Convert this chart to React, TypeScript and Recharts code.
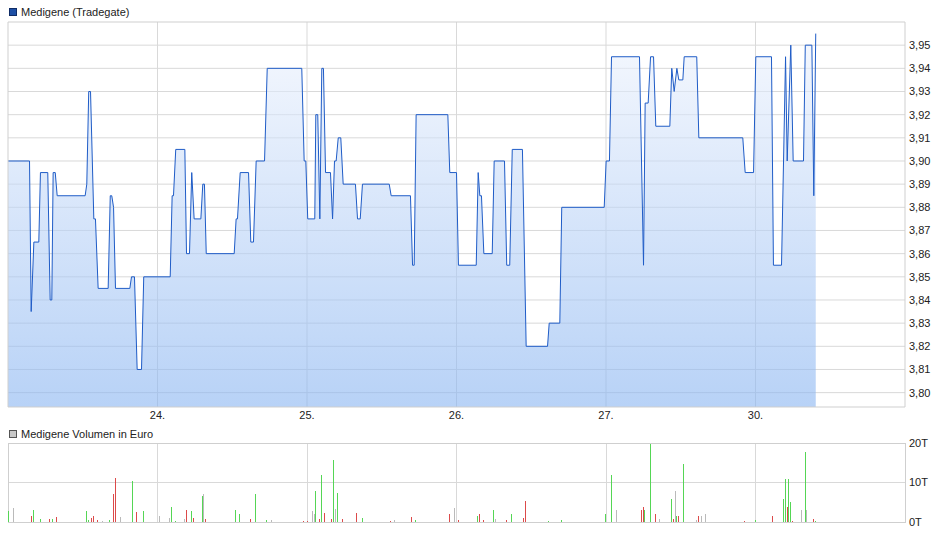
import {
  ComposedChart,
  Area,
  Bar,
  Cell,
  XAxis,
  YAxis,
  CartesianGrid,
  ReferenceArea,
} from "recharts";

// time axis: 0 = market open on the 23rd, one unit per trading day
const priceTimes = [
  0, 0.144, 0.155, 0.173, 0.206, 0.217, 0.266, 0.282, 0.293, 0.302, 0.316, 0.329,
  0.516, 0.527, 0.54, 0.552, 0.574, 0.585, 0.603, 0.67, 0.684, 0.694, 0.706, 0.719,
  0.815, 0.826, 0.846, 0.864, 0.893, 0.908, 1.085, 1.098, 1.107, 1.122, 1.183, 1.194,
  1.214, 1.229, 1.245, 1.29, 1.303, 1.314, 1.326, 1.513, 1.526, 1.535, 1.553, 1.609,
  1.624, 1.642, 1.66, 1.716, 1.734, 1.965, 1.981, 1.992, 2.005, 2.052, 2.059, 2.072,
  2.086, 2.099, 2.11, 2.124, 2.157, 2.171, 2.184, 2.195, 2.209, 2.226, 2.242, 2.324,
  2.338, 2.356, 2.371, 2.55, 2.563, 2.692, 2.706, 2.717, 2.73, 2.942, 2.955, 3.0,
  3.013, 3.132, 3.145, 3.156, 3.167, 3.183, 3.239, 3.252, 3.321, 3.336, 3.356, 3.373,
  3.441, 3.466, 3.609, 3.62, 3.691, 3.704, 3.988, 4.001, 4.023, 4.037, 4.224, 4.251,
  4.262, 4.282, 4.298, 4.318, 4.333, 4.427, 4.44, 4.456, 4.474, 4.487, 4.514, 4.523,
  4.607, 4.621, 4.915, 4.931, 4.987, 5.002, 5.107, 5.12, 5.174, 5.201, 5.212, 5.236,
  5.252, 5.321, 5.333, 5.377, 5.39, 5.403,
];
const prices = [
  3.9, 3.9, 3.835, 3.865, 3.865, 3.895, 3.895, 3.84, 3.84, 3.895, 3.895, 3.885,
  3.885, 3.89, 3.93, 3.93, 3.875, 3.875, 3.845, 3.845, 3.885, 3.885, 3.88, 3.845,
  3.845, 3.85, 3.85, 3.81, 3.81, 3.85, 3.85, 3.885, 3.885, 3.905, 3.905, 3.86,
  3.86, 3.895, 3.875, 3.875, 3.89, 3.89, 3.86, 3.86, 3.875, 3.875, 3.895, 3.895,
  3.865, 3.865, 3.9, 3.9, 3.94, 3.94, 3.9, 3.9, 3.875, 3.875, 3.92, 3.92,
  3.875, 3.94, 3.94, 3.895, 3.895, 3.875, 3.9, 3.9, 3.91, 3.91, 3.89, 3.89,
  3.875, 3.875, 3.89, 3.89, 3.885, 3.885, 3.855, 3.855, 3.92, 3.92, 3.895, 3.895,
  3.855, 3.855, 3.895, 3.885, 3.885, 3.86, 3.86, 3.9, 3.9, 3.855, 3.855, 3.905,
  3.905, 3.82, 3.82, 3.83, 3.83, 3.88, 3.88, 3.9, 3.9, 3.945, 3.945, 3.855,
  3.925, 3.925, 3.945, 3.945, 3.915, 3.915, 3.94, 3.93, 3.94, 3.935, 3.935, 3.945,
  3.945, 3.91, 3.91, 3.895, 3.895, 3.945, 3.945, 3.855, 3.855, 3.945, 3.9, 3.95,
  3.9, 3.9, 3.95, 3.95, 3.885, 3.955,
];

const volumeTimes = [
  0.005, 0.039, 0.159, 0.173, 0.219, 0.28, 0.3, 0.326, 0.527, 0.54, 0.561, 0.574,
  0.601, 0.634, 0.681, 0.708, 0.721, 0.755, 0.831, 0.862, 0.908, 1.015, 1.078, 1.096,
  1.122, 1.183, 1.196, 1.229, 1.243, 1.303, 1.31, 1.323, 1.524, 1.551, 1.624, 1.658,
  1.731, 1.765, 1.979, 2.005, 2.039, 2.052, 2.059, 2.086, 2.099, 2.119, 2.166, 2.179,
  2.193, 2.206, 2.239, 2.333, 2.373, 2.561, 2.587, 2.701, 2.728, 2.955, 2.989, 3.015,
  3.142, 3.156, 3.183, 3.249, 3.263, 3.336, 3.37, 3.45, 3.464, 3.617, 3.704, 3.999,
  4.039, 4.072, 4.239, 4.252, 4.259, 4.3, 4.333, 4.36, 4.44, 4.453, 4.467, 4.474,
  4.487, 4.52, 4.607, 4.621, 4.641, 4.668, 4.929, 5.002, 5.116, 5.189, 5.202, 5.216,
  5.222, 5.236, 5.249, 5.31, 5.333, 5.343, 5.39, 5.403,
];
const volumes = [
  2800, 3600, 1600, 3100, 800, 800, 800, 1300, 2800, 600, 1100, 1600,
  600, 200, 600, 7100, 11200, 1300, 10300, 2600, 2800, 1600, 1100, 3800,
  300, 800, 3100, 2800, 1100, 6600, 7100, 800, 3100, 2100, 800, 7100,
  600, 600, 300, 200, 2800, 2100, 7800, 800, 11800, 2300, 800, 15600,
  3300, 7300, 800, 2300, 1100, 300, 600, 1300, 600, 2100, 3600, 600,
  1600, 2100, 600, 3100, 800, 600, 2100, 1100, 5400, 300, 600, 2100,
  12000, 3100, 3100, 3900, 3100, 19800, 2100, 800, 5900, 800, 7900, 1400,
  1600, 14800, 600, 1400, 1600, 2100, 200, 600, 1400, 5900, 11000, 3900,
  11000, 5100, 300, 3100, 17800, 3100, 800, 200,
];
const volumeMoves = [
  "up", "flat", "down", "up", "up", "down", "up", "down", "up", "up", "down", "down",
  "down", "flat", "up", "down", "down", "flat", "up", "down", "up", "flat", "flat", "up",
  "up", "flat", "down", "up", "down", "up", "flat", "down", "up", "up", "down", "up",
  "up", "flat", "down", "down", "flat", "flat", "up", "down", "up", "down", "down", "up",
  "flat", "up", "down", "down", "up", "down", "flat", "down", "up", "down", "flat", "down",
  "up", "down", "down", "up", "flat", "down", "up", "down", "down", "up", "up", "up",
  "up", "flat", "down", "down", "up", "up", "down", "flat", "up", "down", "flat", "up",
  "down", "up", "flat", "down", "flat", "flat", "down", "up", "down", "up", "up", "down",
  "up", "up", "down", "flat", "up", "flat", "down", "up",
];

const dayTicks = [1, 2, 3, 4, 5];
const dayLabels = ["24.", "25.", "26.", "27.", "30."];
const priceTicks = [3.8, 3.81, 3.82, 3.83, 3.84, 3.85, 3.86, 3.87, 3.88, 3.89, 3.9, 3.91, 3.92, 3.93, 3.94, 3.95];
const volumeTicks = [0, 10000, 20000];

const moveColors: Record<string, string> = { up: "#55d655", down: "#dc4a4a", flat: "#bababa" };

const priceData = priceTimes.map((t, i) => ({ t, price: prices[i] }));
const volumeData = volumeTimes.map((t, i) => ({ t, vol: volumes[i], move: volumeMoves[i] }));

const font = "'Liberation Sans', Arial, sans-serif";
const tickStyle = { fill: "#222", fontSize: 11, fontFamily: font };
const gridColor = "#d9d9d9";
const borderColor = "#cfcfcf";
const priceDomain: [number, number] = [3.7938, 3.96];

function LegendItem({ top, label, fill, border }: { top: number; label: string; fill: string; border: string }) {
  return (
    <div style={{ position: "absolute", left: 9, top, height: 12, display: "flex", alignItems: "center" }}>
      <span
        style={{
          width: 6,
          height: 6,
          background: fill,
          border: `1px solid ${border}`,
          display: "inline-block",
          marginRight: 4,
        }}
      />
      <span style={{ fontSize: 11, fontFamily: font, color: "#222", lineHeight: "12px" }}>{label}</span>
    </div>
  );
}

export default function App() {
  return (
    <div style={{ position: "absolute", left: 0, top: 0, width: 937, height: 535, background: "#fff" }}>
      <style>{".crisp path, .crisp line { shape-rendering: crispEdges; }"}</style>
      <LegendItem top={6} label="Medigene (Tradegate)" fill="#1d4fa5" border="#0f2c66" />
      <div style={{ position: "absolute", left: 0, top: 0 }}>
        <ComposedChart width={937} height={425} data={priceData} margin={{ top: 22, right: 0, bottom: 0, left: 8 }}>
          <defs>
            <linearGradient id="priceFill" x1="0" y1="0" x2="0" y2="1">
              <stop offset="0%" stopColor="#eef3fd" stopOpacity={0.6} />
              <stop offset="100%" stopColor="#88b4f1" stopOpacity={0.6} />
            </linearGradient>
          </defs>
          <CartesianGrid className="crisp" stroke={gridColor} verticalValues={dayTicks} horizontalValues={priceTicks} />
          <XAxis
            dataKey="t"
            type="number"
            domain={[0, 6]}
            ticks={dayTicks}
            interval={0}
            tickFormatter={(v) => dayLabels[dayTicks.indexOf(v)]}
            axisLine={false}
            tickLine={false}
            tickSize={0}
            tickMargin={4}
            height={18}
            tick={tickStyle}
            allowDataOverflow
          />
          <YAxis
            orientation="right"
            type="number"
            domain={priceDomain}
            ticks={priceTicks}
            interval={0}
            tickFormatter={(v) => v.toFixed(2).replace(".", ",")}
            axisLine={false}
            tickLine={false}
            tickSize={0}
            tickMargin={4}
            width={32}
            tick={tickStyle}
            allowDataOverflow
          />
          <Area
            type="linear"
            dataKey="price"
            stroke="#1f5cc7"
            strokeWidth={1}
            fill="url(#priceFill)"
            fillOpacity={1}
            dot={false}
            activeDot={false}
            isAnimationActive={false}
          />
          <ReferenceArea
            x1={0}
            x2={6}
            y1={priceDomain[0]}
            y2={priceDomain[1]}
            fill="none"
            stroke={borderColor}
            ifOverflow="visible"
          />
        </ComposedChart>
      </div>

      <LegendItem top={428} label="Medigene Volumen in Euro" fill="#c8c8c8" border="#555" />
      <div style={{ position: "absolute", left: 0, top: 425 }} className="crisp">
        <ComposedChart width={937} height={110} data={volumeData} margin={{ top: 18, right: 0, bottom: 13, left: 8 }}>
          <CartesianGrid stroke={gridColor} verticalValues={dayTicks} horizontalValues={volumeTicks} />
          <XAxis dataKey="t" type="number" domain={[0, 6]} ticks={dayTicks} hide allowDataOverflow />
          <YAxis
            orientation="right"
            type="number"
            domain={[0, 20000]}
            ticks={volumeTicks}
            interval={0}
            tickFormatter={(v) => `${v / 1000}T`}
            axisLine={false}
            tickLine={false}
            tickSize={0}
            tickMargin={4}
            width={32}
            tick={tickStyle}
            allowDataOverflow
          />
          <Bar dataKey="vol" barSize={1} isAnimationActive={false}>
            {volumeData.map((d, i) => (
              <Cell key={i} fill={moveColors[d.move]} />
            ))}
          </Bar>
          <ReferenceArea x1={0} x2={6} y1={0} y2={20000} fill="none" stroke={borderColor} ifOverflow="visible" />
        </ComposedChart>
      </div>
    </div>
  );
}
